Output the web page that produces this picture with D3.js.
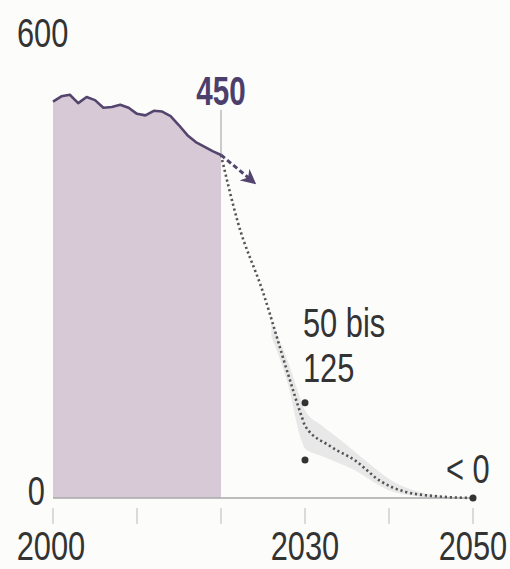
<!DOCTYPE html>
<html>
<head>
<meta charset="utf-8">
<script src="https://cdn.jsdelivr.net/npm/d3@7"></script>
<style>
  html, body { margin: 0; padding: 0; background: #fcfcfb; }
  svg { display: block; }
  text { font-family: "Liberation Sans", Arial, sans-serif; }
</style>
</head>
<body>
<svg id="chart" width="510" height="569"></svg>
<script>
// ---- data ----
const histYears  = [2000,2001,2002,2003,2004,2005,2006,2007,2008,2009,2010,2011,2012,2013,2014,2015,2016,2017,2018,2019,2020];
const histValues = [520,527,529,518,526,522,512,513,516,512,504,502,508,507,501,489,476,467,461,455,450];

const projYears  = [2020,2022,2025,2028,2029.6,2030,2033,2036,2039,2042,2046,2050];
const projValues = [450,362,270,162,107,95,68,49,22,8,2,0];

const bandYears  = [2026,2028,2029.6,2030,2032,2034,2036,2038,2040,2043,2046,2050];
const bandHigh   = [232,178,126,115,95,78,60,42,25,10,3,0];
const bandLow    = [212,148,75,65,55,46,36,22,10,3,0,0];

const trendYears  = [2020,2023.5];
const trendValues = [450,418];

const rangePoints = [{year:2030, value:125},{year:2030, value:50},{year:2050, value:0}];

const xTickYears  = [2000,2010,2020,2030,2040,2050];
const xLabelYears = [2000,2030,2050];
const yLabels     = ["600","0"];

// ---- scales ----
const svg = d3.select("#chart");
const x = d3.scaleLinear().domain([2000, 2050]).range([53, 473]);
const y = d3.scaleLinear().domain([0, 450]).range([498, 155]);

// historic area
const hist = histYears.map((d,i)=>({year:d, value:histValues[i]}));
svg.append("path")
  .datum(hist)
  .attr("fill", "#d7c9d6")
  .attr("d", d3.area().x(d=>x(d.year)).y0(y(0)).y1(d=>y(d.value)));

// grey uncertainty band
const band = bandYears.map((d,i)=>({year:d, hi:bandHigh[i], lo:bandLow[i]}));
svg.append("path")
  .datum(band)
  .attr("fill", "#e8e8e8")
  .attr("d", d3.area().curve(d3.curveMonotoneX).x(d=>x(d.year)).y0(d=>y(d.lo)).y1(d=>y(d.hi)));

// baseline axis
svg.append("line")
  .attr("x1", x(2000)).attr("x2", x(2050))
  .attr("y1", y(0)).attr("y2", y(0))
  .attr("stroke", "#a9a9a9").attr("stroke-width", 1.5);

// small ticks below axis
svg.selectAll("line.tick").data(xTickYears).enter().append("line")
  .attr("class","tick")
  .attr("x1", d=>x(d)).attr("x2", d=>x(d))
  .attr("y1", 508).attr("y2", 524)
  .attr("stroke", "#c4c4c4").attr("stroke-width", 1.2);

// marker line for 450
svg.append("line")
  .attr("x1", x(2020)).attr("x2", x(2020))
  .attr("y1", 110).attr("y2", y(450))
  .attr("stroke", "#9a9a9a").attr("stroke-width", 1);

// historic line
svg.append("path")
  .datum(hist)
  .attr("fill", "none")
  .attr("stroke", "#54456f")
  .attr("stroke-width", 2.6)
  .attr("stroke-linejoin", "round")
  .attr("d", d3.line().x(d=>x(d.year)).y(d=>y(d.value)));

// projection dotted line
const proj = projYears.map((d,i)=>({year:d, value:projValues[i]}));
svg.append("path")
  .datum(proj)
  .attr("fill", "none")
  .attr("stroke", "#555")
  .attr("stroke-width", 2.6)
  .attr("stroke-dasharray", "2.2,2.8")
  .attr("d", d3.line().curve(d3.curveMonotoneX).x(d=>x(d.year)).y(d=>y(d.value)));

// trend arrow
svg.append("defs").append("marker")
  .attr("id","arrow").attr("viewBox","0 0 10 10")
  .attr("refX", 5).attr("refY", 5)
  .attr("markerWidth", 5).attr("markerHeight", 5)
  .attr("orient","auto")
  .append("path").attr("d","M0,0 L10,5 L0,10 L3,5 Z").attr("fill","#54456f");
const trend = trendYears.map((d,i)=>({year:d, value:trendValues[i]}));
svg.append("path")
  .datum(trend)
  .attr("fill","none")
  .attr("stroke","#54456f")
  .attr("stroke-width", 3)
  .attr("stroke-dasharray","5,3")
  .attr("marker-end","url(#arrow)")
  .attr("d", d3.line().x(d=>x(d.year)).y(d=>y(d.value)));

// range dots
svg.selectAll("circle.pt").data(rangePoints).enter().append("circle")
  .attr("class","pt")
  .attr("cx", d=>x(d.year)).attr("cy", d=>y(d.value))
  .attr("r", 3.5).attr("fill", "#333");

// labels (condensed by horizontal scaling)
const SX = 0.77;
const lab = (txt, px, py, opts={}) => svg.append("text")
  .attr("transform", `translate(${px},${py}) scale(${opts.sx || SX},1)`)
  .attr("font-size", opts.size || 40)
  .attr("text-anchor", opts.anchor || "start")
  .attr("font-weight", opts.weight || "normal")
  .attr("fill", opts.fill || "#333")
  .text(txt);

lab(yLabels[0], 17, 47);
lab(yLabels[1], 45, 505, {anchor:"end"});
lab("450", x(2020), 105, {anchor:"middle", weight:"bold", fill:"#4d3f6c", sx:0.74});
lab("50 bis", 303, 337);
lab("125", 303, 382);
lab("< 0", 446, 483);
xLabelYears.forEach(yr => lab(String(yr), x(yr) - (yr===2000 ? 2 : 0), 560, {anchor:"middle"}));
</script>
</body>
</html>
